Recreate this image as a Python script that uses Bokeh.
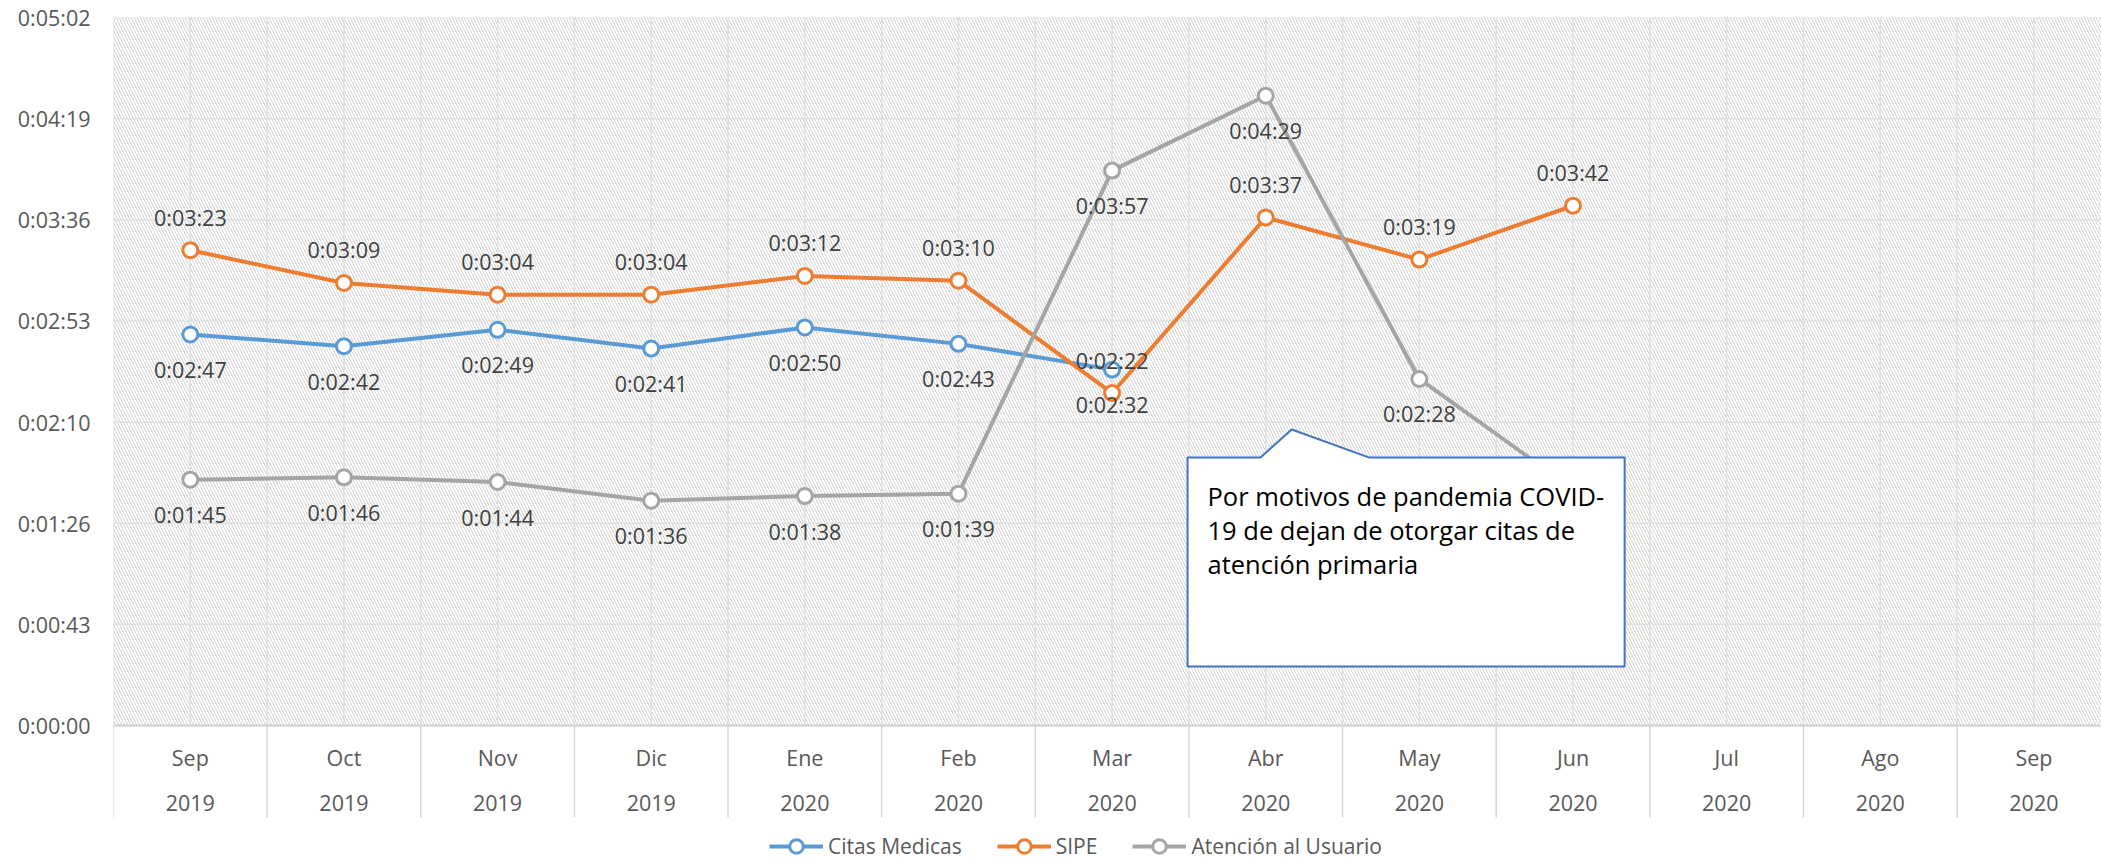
from bokeh.plotting import figure
from bokeh.models import (Range1d, FixedTicker, CustomJSTickFormatter, ColumnDataSource,
                          Legend, LegendItem)
from bokeh.core.properties import value
from bokeh.embed import file_html
from bokeh.resources import INLINE

# ---------------- data ----------------
MONTHS = ["Sep", "Oct", "Nov", "Dic", "Ene", "Feb", "Mar", "Abr", "May", "Jun", "Jul", "Ago", "Sep"]
YEARS = ["2019", "2019", "2019", "2019", "2020", "2020", "2020", "2020", "2020", "2020", "2020", "2020", "2020"]

# durations in seconds
CITAS_MEDICAS = [167, 162, 169, 161, 170, 163, 152]
SIPE = [203, 189, 184, 184, 192, 190, 142, 217, 199, 222]
ATENCION_USUARIO = [105, 106, 104, 96, 98, 99, 237, 269, 148, 101]

SERIES_NAMES = ["Citas Medicas", "SIPE", "Atención al Usuario"]
SERIES_VALUES = [CITAS_MEDICAS, SIPE, ATENCION_USUARIO]
COLORS = ["#5B9BD5", "#ED7D31", "#A5A5A5"]
LABEL_ABOVE = [False, True, False]

Y_MAX = 302.4          # 0:05:02
Y_STEP = 43.2          # 0:00:43
N_TICKS = 7

CALLOUT_LINES = ["Por motivos de pandemia COVID-",
                 "19 de dejan de otorgar citas de",
                 "atención primaria"]

FONT = "Open Sans"

# ---------------- layout constants ----------------
X_END = 12.94
Y_START = -59.37
MONTH_Y = -13.7
YEAR_Y = -32.9
SEP_BOTTOM = -39.3


def fmt(sec):
    s = int(round(sec))
    return "%d:%02d:%02d" % (s // 3600, (s % 3600) // 60, s % 60)


p = figure(width=2101, height=864,
           x_range=Range1d(0, X_END), y_range=Range1d(Y_START, Y_MAX),
           output_backend="svg", toolbar_location=None, x_axis_location=None,
           min_border_left=113, min_border_right=0, min_border_top=17, min_border_bottom=0)
p.outline_line_color = None
p.grid.visible = False
p.background_fill_color = "white"
p.border_fill_color = "white"

ticks = [round(Y_STEP * k, 6) for k in range(N_TICKS + 1)]
ticks[-1] = Y_MAX
ax = p.yaxis[0]
ax.ticker = FixedTicker(ticks=ticks)
ax.formatter = CustomJSTickFormatter(code="""
const s = Math.round(tick);
const h = Math.floor(s / 3600), m = Math.floor((s % 3600) / 60), ss = s % 60;
return h + ':' + String(m).padStart(2, '0') + ':' + String(ss).padStart(2, '0');
""")
ax.axis_line_color = None
ax.major_tick_line_color = None
ax.minor_tick_line_color = None
ax.major_tick_out = 0
ax.major_tick_in = 0
ax.major_label_standoff = 23
ax.major_label_text_font = FONT
ax.major_label_text_font_size = "21.5px"
ax.major_label_text_color = "#595959"

n_cat = len(MONTHS)

# hatched plot area
p.quad(left=[0], right=[n_cat], bottom=[0], top=[Y_MAX], fill_color="white",
       hatch_pattern="\\", hatch_color="#d2d2d2", hatch_scale=6, hatch_weight=1,
       line_color=None)

GRID = "#e0e0e0"
# horizontal gridlines
p.segment(x0=[0] * N_TICKS, x1=[n_cat] * N_TICKS, y0=ticks[1:], y1=ticks[1:],
          line_color=GRID, line_width=1.5)
# vertical gridlines at centers and boundaries
vx = [i * 0.5 for i in range(2 * n_cat)]
p.segment(x0=vx, x1=vx, y0=[0] * len(vx), y1=[Y_MAX] * len(vx),
          line_color=GRID, line_width=1.5)
# category axis line and separators
p.segment(x0=[0], x1=[n_cat], y0=[0], y1=[0], line_color="#d0d0d0", line_width=2)
bx = list(range(n_cat))
p.segment(x0=bx, x1=bx, y0=[0] * len(bx), y1=[SEP_BOTTOM] * len(bx),
          line_color="#d6d6d6", line_width=1.5)

centers = [i + 0.5 for i in range(n_cat)]
p.text(x=centers, y=[MONTH_Y] * n_cat, text=MONTHS, text_align="center", text_baseline="middle",
       text_font=value(FONT), text_font_size="21.5px", text_color="#595959")
p.text(x=centers, y=[YEAR_Y] * n_cat, text=YEARS, text_align="center", text_baseline="middle",
       text_font=value(FONT), text_font_size="21.5px", text_color="#595959")

# series
legend_items = []
label_sources = []
for name, vals, col, above in zip(SERIES_NAMES, SERIES_VALUES, COLORS, LABEL_ABOVE):
    xs = [i + 0.5 for i in range(len(vals))]
    src = ColumnDataSource(dict(x=xs, y=vals))
    lr = p.line("x", "y", source=src, line_color=col, line_width=4)
    sr = p.scatter("x", "y", source=src, marker="circle", size=15, fill_color="white",
                   line_color=col, line_width=3)
    legend_items.append(LegendItem(label=name, renderers=[lr, sr]))
    label_sources.append(ColumnDataSource(dict(
        x=xs, y=vals, t=[fmt(v) for v in vals],
        off=[-33 if above else 35] * len(vals))))

for ls in label_sources:
    p.text("x", "y", text="t", source=ls, y_offset="off", text_align="center",
           text_baseline="middle", text_font=value(FONT), text_font_size="21.5px",
           text_color="#404040")

# callout
BOX_L, BOX_R, BOX_T, BOX_B = 6.991, 9.836, 114.5, 25.2
PTR_L, PTR_TIP, PTR_R, PTR_Y = 7.466, 7.669, 8.170, 126.4
p.patch(x=[BOX_L, PTR_L, PTR_TIP, PTR_R, BOX_R, BOX_R, BOX_L],
        y=[BOX_T, BOX_T, PTR_Y, BOX_T, BOX_T, BOX_B, BOX_B],
        fill_color="white", line_color="#4472C4", line_width=2)
TXT_X = 7.121
p.text(x=[TXT_X] * 3, y=[98.2, 83.4, 68.8], text=CALLOUT_LINES, text_align="left",
       text_baseline="alphabetic", text_font=value(FONT), text_font_size="25.5px",
       text_color="#000000")

legend = Legend(items=legend_items, location=(656, 1), orientation="horizontal",
                glyph_width=54, glyph_height=34, label_standoff=5, spacing=35,
                padding=0, margin=0, border_line_color=None, background_fill_alpha=0,
                label_text_font=FONT, label_text_font_size="21px",
                label_text_color="#595959")
p.add_layout(legend)

open("out.html", "w").write(file_html(p, INLINE))
